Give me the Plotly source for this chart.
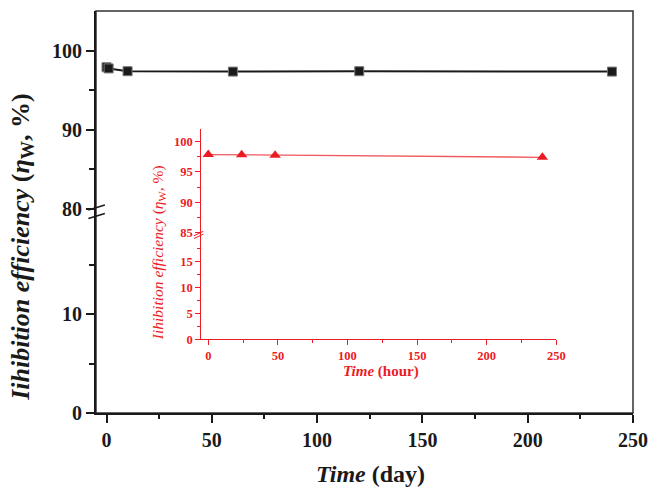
import plotly.graph_objects as go

# Main series (days)
day_x = [0, 1, 10, 60, 120, 240]
day_eff = [97.9, 97.75, 97.4, 97.35, 97.4, 97.35]

# Inset series (hours)
hour_x = [0, 24, 48, 240]
hour_eff = [97.85, 97.8, 97.75, 97.4]

main_xticks = [0, 50, 100, 150, 200, 250]
main_y_low_ticks = [0, 10]
main_y_high_ticks = [80, 90, 100]
inset_xticks = [0, 50, 100, 150, 200, 250]
inset_y_low_ticks = [0, 5, 10, 15]
inset_y_high_ticks = [85, 90, 95, 100]

RED = "#ec1c24"
BLACK = "#1a1a1a"
FONT = "Liberation Serif"

fig = go.Figure()

# empty traces so the lower (broken) axis segments are created
fig.add_trace(go.Scatter(x=[], y=[], xaxis="x", yaxis="y", mode="markers",
                         showlegend=False, hoverinfo="skip"))
fig.add_trace(go.Scatter(x=[], y=[], xaxis="x2", yaxis="y3", mode="markers",
                         showlegend=False, hoverinfo="skip"))

fig.add_trace(go.Scatter(
    x=day_x, y=day_eff, xaxis="x", yaxis="y2", mode="lines+markers",
    line=dict(color=BLACK, width=2),
    marker=dict(symbol="square", size=9, color=BLACK, line=dict(color="#777", width=1)),
    showlegend=False, cliponaxis=False))

fig.add_trace(go.Scatter(
    x=hour_x, y=hour_eff, xaxis="x2", yaxis="y4", mode="lines+markers",
    line=dict(color="rgb(240,90,95)", width=1.3),
    marker=dict(symbol="triangle-up", size=10, color=RED),
    showlegend=False, cliponaxis=False))

main_tickfont = dict(family=FONT, size=20, color=BLACK, weight="bold")
inset_tickfont = dict(family=FONT, size=12.5, color=RED, weight="bold")

common_main = dict(showline=True, linecolor=BLACK, linewidth=2, ticks="outside",
                   ticklen=8, tickwidth=2, tickcolor=BLACK, showgrid=False,
                   zeroline=False, tickfont=main_tickfont, tickmode="array")
common_inset = dict(showline=True, linecolor=RED, linewidth=1.3, ticks="outside",
                    ticklen=5, tickwidth=1.2, tickcolor=RED, showgrid=False,
                    zeroline=False, tickfont=inset_tickfont, tickmode="array")

fig.update_layout(
    width=659, height=489,
    margin=dict(l=96, r=19, t=11, b=76),
    paper_bgcolor="white", plot_bgcolor="white",
    xaxis=dict(domain=[0, 1], anchor="y", range=[-5, 250], tickvals=main_xticks,
               minor=dict(tickmode="array", tickvals=[25, 75, 125, 175, 225], ticks="outside",
                          ticklen=4, tickwidth=2, tickcolor=BLACK),
               **common_main),
    yaxis=dict(domain=[0, 0.5075], anchor="x", range=[0, 20.67], tickvals=main_y_low_ticks,
               minor=dict(tickmode="array", tickvals=[5, 15], ticks="outside",
                          ticklen=5, tickwidth=2, tickcolor=BLACK),
               **common_main),
    yaxis2=dict(domain=[0.5075, 1], anchor="x", range=[80, 105], tickvals=main_y_high_ticks,
                minor=dict(tickmode="array", tickvals=[85, 95], ticks="outside",
                           ticklen=5, tickwidth=2, tickcolor=BLACK),
                **common_main),
    xaxis2=dict(domain=[0.1961, 0.8572], anchor="y3", range=[-5, 250], tickvals=inset_xticks,
                minor=dict(tickmode="array", tickvals=[25, 75, 125, 175, 225], ticks="outside",
                           ticklen=2.5, tickwidth=1.2, tickcolor=RED),
                **common_inset),
    yaxis3=dict(domain=[0.1833, 0.4485], anchor="x2", range=[0, 20.5], tickvals=inset_y_low_ticks,
                minor=dict(tickmode="array", tickvals=[2.5, 7.5, 12.5, 17.5], ticks="outside",
                           ticklen=3, tickwidth=1.2, tickcolor=RED),
                **common_inset),
    yaxis4=dict(domain=[0.4485, 0.7057], anchor="x2", range=[85, 102], tickvals=inset_y_high_ticks,
                minor=dict(tickmode="array", tickvals=[87.5, 92.5, 97.5], ticks="outside",
                           ticklen=3, tickwidth=1.2, tickcolor=RED),
                **common_inset),
)

# Frame (top and right borders)
fig.add_shape(type="rect", xref="paper", yref="paper", x0=0, x1=1, y0=0, y1=1,
              line=dict(color="#333", width=1.5), layer="below")

# Axis break marks (main)
for dy in (0.0, -0.021):
    fig.add_shape(type="line", xref="paper", yref="paper",
                  x0=-0.0142, x1=0.0165, y0=0.505 + dy, y1=0.5174 + dy,
                  line=dict(color=BLACK, width=1.5))
# Axis break marks (inset)
for dy in (0.0, -0.007):
    fig.add_shape(type="line", xref="paper", yref="paper",
                  x0=0.1825, x1=0.200, y0=0.441 + dy, y1=0.452 + dy,
                  line=dict(color=RED, width=1))

# Titles
fig.add_annotation(xref="paper", yref="paper", x=-0.138, y=0.413, showarrow=False,
                   xanchor="center", yanchor="middle", textangle=-90,
                   text="<b><i>Iihibition efficiency</i> (<i>η</i><sub>W</sub>, %)</b>",
                   font=dict(family=FONT, size=26, color=BLACK))
fig.add_annotation(xref="paper", yref="paper", x=0.511, y=-0.1517, showarrow=False,
                   xanchor="center", yanchor="middle",
                   text="<b><i>Time</i> (day)</b>",
                   font=dict(family=FONT, size=24, color=BLACK))
fig.add_annotation(xref="paper", yref="paper", x=0.1158, y=0.398, showarrow=False,
                   xanchor="center", yanchor="middle", textangle=-90,
                   text="<i>Iihibition efficiency</i> (<i>η</i><sub>W</sub>, %)",
                   font=dict(family=FONT, size=15.5, color=RED))
fig.add_annotation(xref="paper", yref="paper", x=0.5303, y=0.102, showarrow=False,
                   xanchor="center", yanchor="middle",
                   text="<b><i>Time</i> (hour)</b>",
                   font=dict(family=FONT, size=15, color=RED))

fig.write_html("out.html")
